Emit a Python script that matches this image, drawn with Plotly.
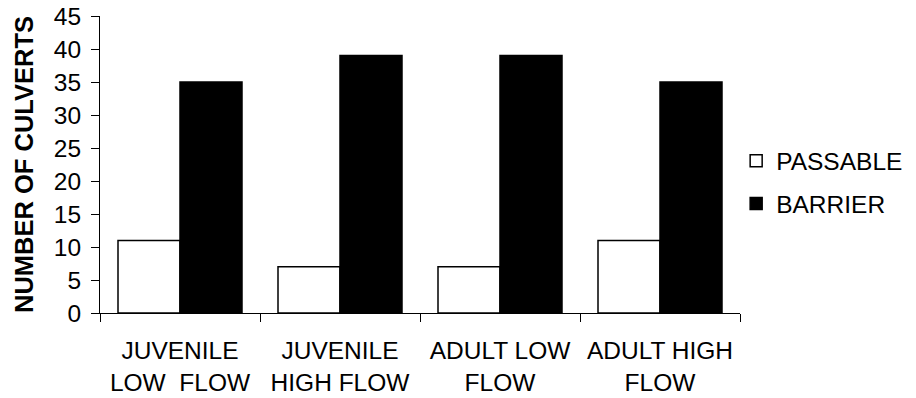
import plotly.graph_objects as go

# Culvert counts by life stage and flow condition
categories = ["JUVENILE<br>LOW  FLOW", "JUVENILE<br>HIGH FLOW", "ADULT LOW<br>FLOW", "ADULT HIGH<br>FLOW"]
passable = [11, 7, 7, 11]
barrier = [35, 39, 39, 35]
y_ticks = list(range(0, 46, 5))

FONT = "Liberation Sans, Arial, sans-serif"

fig = go.Figure()
fig.add_trace(go.Bar(
    x=categories, y=passable, name="PASSABLE", legendgroup="p",
    marker=dict(color="white", line=dict(color="black", width=1.5)),
))
fig.add_trace(go.Bar(
    x=categories, y=barrier, name="BARRIER", legendgroup="b",
    marker=dict(color="black", line=dict(color="black", width=1.5)),
))

fig.update_layout(
    width=916, height=398,
    margin=dict(l=100, r=176, t=16, b=85, autoexpand=False),
    paper_bgcolor="white", plot_bgcolor="white",
    barmode="group", bargap=0.225, bargroupgap=0,
    font=dict(family=FONT, size=24.5, color="black"),
    legend=dict(
        x=0.994, xanchor="left", y=0.44, yanchor="middle",
        font=dict(size=24.5), tracegroupgap=8,
        itemclick=False, itemdoubleclick=False,
    ),
)
fig.update_xaxes(
    showline=True, linecolor="black", linewidth=1,
    ticks="outside", ticklen=8, tickcolor="black", tickson="boundaries",
    showgrid=False, tickfont=dict(size=24.5), automargin=False,
    ticklabelstandoff=16,
)
fig.update_yaxes(
    range=[0, 45], tickvals=y_ticks, ticktext=[str(v) for v in y_ticks],
    showline=True, linecolor="black", linewidth=1,
    ticks="outside", ticklen=8, tickcolor="black",
    showgrid=False, zeroline=False, tickfont=dict(size=24.5),
    automargin=False, ticklabelstandoff=5,
    title=dict(text="<b>NUMBER OF CULVERTS</b>", font=dict(size=25.5), standoff=12),
)

fig.write_html("out.html")
